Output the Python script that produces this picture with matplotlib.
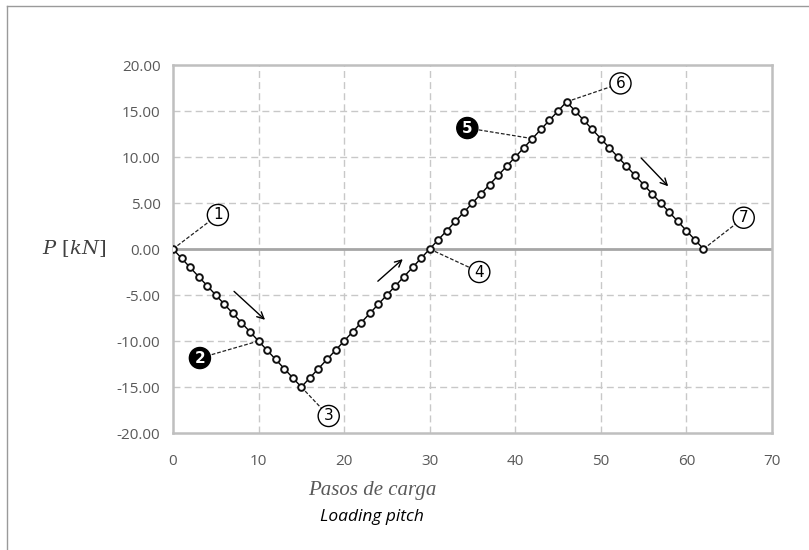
import matplotlib
matplotlib.use("Agg")
import matplotlib.pyplot as plt
from matplotlib.lines import Line2D

plt.rcParams["mathtext.fontset"] = "dejavuserif"

# ---- data ----
steps = list(range(0, 63))
load = [0, -1, -2, -3, -4, -5, -6, -7, -8, -9, -10, -11, -12, -13, -14, -15,
        -14, -13, -12, -11, -10, -9, -8, -7, -6, -5, -4, -3, -2, -1, 0,
        1, 2, 3, 4, 5, 6, 7, 8, 9, 10, 11, 12, 13, 14, 15, 16,
        15, 14, 13, 12, 11, 10, 9, 8, 7, 6, 5, 4, 3, 2, 1, 0]
xticks = [0, 10, 20, 30, 40, 50, 60, 70]
yticks = [-20, -15, -10, -5, 0, 5, 10, 15, 20]

# labels: (text, point x, point y, label x, label y, filled)
labels = [
    ("1", 0, 0, 5.25, 3.7, False),
    ("2", 10, -10, 3.15, -11.85, True),
    ("3", 15, -15, 18.2, -18.15, False),
    ("4", 30, 0, 35.8, -2.5, False),
    ("5", 42, 12, 34.4, 13.15, True),
    ("6", 46, 16, 52.3, 18.0, False),
    ("7", 62, 0, 66.7, 3.4, False),
]
arrows = [
    ((6.9, -4.4), (11.0, -7.9)),
    ((23.7, -3.7), (27.1, -0.9)),
    ((54.5, 10.1), (58.1, 6.6)),
]

fig = plt.figure(figsize=(8.09, 5.5), dpi=100)
ax = fig.add_axes([0.2138, 0.2127, 0.7404, 0.6691])

grid_c = "#c8c8c8"
for x in xticks[1:-1]:
    ax.axvline(x, color=grid_c, lw=1, ls=(0, (5, 3)), zorder=1)
for y in yticks[1:-1]:
    if y != 0:
        ax.axhline(y, color=grid_c, lw=1, ls=(0, (5, 3)), zorder=1)
ax.axhline(0, color="#a6a6a6", lw=2, zorder=1)

ax.plot(steps, load, color="black", lw=1.0, marker="o", ms=4.8,
        mfc="white", mec="#111111", mew=1.4, zorder=3)

for txt, px, py, lx, ly, filled in labels:
    ax.plot([px, lx], [py, ly], color="#222222", lw=0.9, ls=(0, (3, 1.5)), zorder=2)
    if filled:
        bb = dict(boxstyle="circle,pad=0.2", fc="black", ec="black", lw=1)
        col = "white"
        fw = "bold"
    else:
        bb = dict(boxstyle="circle,pad=0.2", fc="white", ec="black", lw=1)
        col = "black"
        fw = "normal"
    ax.text(lx, ly, txt, ha="center", va="center", fontsize=11, color=col,
            fontweight=fw, family="DejaVu Sans", bbox=bb, zorder=5)

for (x0, y0), (x1, y1) in arrows:
    ax.annotate("", xy=(x1, y1), xytext=(x0, y0),
                arrowprops=dict(arrowstyle="->", color="black", lw=1.0,
                                mutation_scale=12), zorder=4)

ax.set_xlim(0, 70)
ax.set_ylim(-20, 20)
ax.set_xticks(xticks)
ax.set_yticks(yticks)
ax.set_xticklabels([str(v) for v in xticks])
ax.set_yticklabels([f"{v:.2f}" for v in yticks])
ax.tick_params(length=0, labelsize=11, colors="#595959")
ax.tick_params(axis="y", pad=9)
ax.tick_params(axis="x", pad=15)
for lab in ax.get_xticklabels() + ax.get_yticklabels():
    lab.set_family("Open Sans")
for s in ax.spines.values():
    s.set_color("#bfbfbf")
    s.set_linewidth(1.8)

fig.text(74 / 809, 1 - 249 / 550, r"$P\ [kN]$", ha="center", va="center",
         fontsize=14, color="#404040")
fig.text(372 / 809, 1 - 491 / 550, "Pasos de carga", ha="center", va="center",
         fontsize=15, style="italic", color="#595959", family="Liberation Serif")
fig.text(372 / 809, 1 - 517 / 550, "Loading pitch", ha="center", va="center",
         fontsize=12.5, style="italic", color="black", family="Open Sans")

# outer frame (left and top edges)
fig.add_artist(Line2D([7 / 809, 7 / 809], [0, 1 - 6 / 550], transform=fig.transFigure,
                      color="#9a9a9a", lw=1))
fig.add_artist(Line2D([7 / 809, 1], [1 - 6 / 550, 1 - 6 / 550], transform=fig.transFigure,
                      color="#9a9a9a", lw=1))

fig.savefig("out.png", dpi=100)
